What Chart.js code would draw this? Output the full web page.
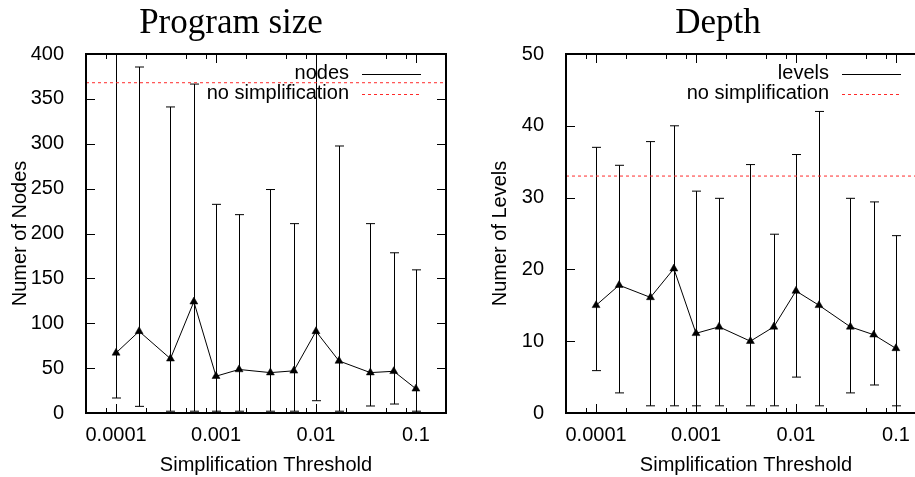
<!DOCTYPE html>
<html>
<head>
<meta charset="utf-8">
<title>Simplification threshold</title>
<script src="https://cdn.jsdelivr.net/npm/chart.js@4.4.1/dist/chart.umd.min.js"></script>
<style>
  html, body { margin: 0; padding: 0; background: #fff; }
  #wrap { position: relative; width: 915px; height: 477px; overflow: hidden; }
  #sizeChart { position: absolute; left: 0; top: 0; }
  #depthChart { position: absolute; left: 480px; top: 0; }
</style>
</head>
<body>
<div id="wrap">
  <canvas id="sizeChart" width="460" height="477" style="width:460px;height:477px"></canvas>
  <canvas id="depthChart" width="480" height="477" style="width:480px;height:477px"></canvas>
</div>
<script>
// thresholds on the x axis (log scale)
const thresholds = [0.0001, 0.00017, 0.00035, 0.0006, 0.001, 0.0017, 0.0035, 0.006, 0.01, 0.017, 0.035, 0.06, 0.1];
const majorTicks = [0.0001, 0.001, 0.01, 0.1];
const minorTicks = [0.00008, 0.0002, 0.0005, 0.0008, 0.002, 0.005, 0.008, 0.02, 0.05, 0.08];
const xMin = 0.00005, xMax = 0.2;

// program size (nodes)
const nodesMean = [67, 91, 60.5, 124, 41, 48.5, 45, 47, 91, 58, 45, 46.5, 27];
const nodesLow  = [16.7, 7.4, 2, 2, 2, 2, 2, 2, 13.7, 2, 7.8, 10, 2];
const nodesHigh = [430, 385.5, 341, 366.5, 232.5, 221, 249, 211, 420, 297.5, 211, 178.5, 159.5];
const nodesNoSimp = 368;
const nodesTicks = [0, 50, 100, 150, 200, 250, 300, 350, 400];

// depth (levels)
const levelsMean = [15, 17.8, 16.1, 20.1, 11.1, 12, 10, 12, 17, 15, 12, 10.9, 9];
const levelsLow  = [5.9, 2.8, 1, 1, 1, 1, 1, 1, 5, 1, 2.8, 3.9, 1];
const levelsHigh = [37, 34.5, 37.8, 40, 30.9, 29.9, 34.6, 24.9, 36, 42, 29.9, 29.4, 24.7];
const levelsNoSimp = 33;
const levelsTicks = [0, 10, 20, 30, 40, 50];

Chart.defaults.font.family = '"Liberation Sans", Arial, sans-serif';
Chart.defaults.color = '#000';

// gnuplot-like frame: inward ticks, error bars, legend in the corner, serif title
const gnuFrame = {
  id: 'gnuFrame',
  beforeDatasetsDraw(chart) {
    const o = chart.options.plugins.gnuFrame;
    const { ctx, chartArea: a, scales: { x, y } } = chart;
    ctx.save();
    ctx.beginPath();
    ctx.rect(a.left, a.top, a.right - a.left, a.bottom - a.top);
    ctx.clip();
    ctx.strokeStyle = '#000';
    ctx.lineWidth = 1;
    thresholds.forEach((t, i) => {
      const px = Math.round(x.getPixelForValue(t)) + 0.5;
      const yl = y.getPixelForValue(o.low[i]);
      const yh = y.getPixelForValue(o.high[i]);
      ctx.beginPath();
      ctx.moveTo(px, yl); ctx.lineTo(px, yh);
      ctx.moveTo(px - 4.5, yl); ctx.lineTo(px + 4.5, yl);
      ctx.moveTo(px - 4.5, yh); ctx.lineTo(px + 4.5, yh);
      ctx.stroke();
    });
    ctx.restore();
  },
  afterDraw(chart) {
    const o = chart.options.plugins.gnuFrame;
    const { ctx, chartArea: a, scales: { x, y } } = chart;
    ctx.save();
    ctx.strokeStyle = '#000';

    // ticks
    ctx.lineWidth = 1;
    ctx.beginPath();
    const xt = (v, len) => {
      const px = Math.round(x.getPixelForValue(v)) + 0.5;
      ctx.moveTo(px, a.bottom); ctx.lineTo(px, a.bottom - len);
      ctx.moveTo(px, a.top); ctx.lineTo(px, a.top + len);
    };
    majorTicks.forEach(v => xt(v, 9));
    minorTicks.forEach(v => xt(v, 5));
    o.yTicks.forEach(v => {
      const py = Math.round(y.getPixelForValue(v)) + 0.5;
      ctx.moveTo(a.left, py); ctx.lineTo(a.left + 9, py);
      ctx.moveTo(a.right, py); ctx.lineTo(a.right - 9, py);
    });
    ctx.stroke();

    // border
    ctx.lineWidth = 2;
    ctx.strokeRect(a.left, a.top, a.right - a.left, a.bottom - a.top);

    // legend
    ctx.font = '20px "Liberation Sans", Arial, sans-serif';
    ctx.fillStyle = '#000';
    ctx.textAlign = 'right';
    ctx.textBaseline = 'middle';
    chart.data.datasets.forEach((ds, i) => {
      const ly = a.top + 19.5 + i * 20.3;
      ctx.fillText(ds.label, a.right - 97, ly);
      ctx.beginPath();
      ctx.strokeStyle = ds.borderColor;
      ctx.lineWidth = 1;
      ctx.setLineDash(ds.borderDash || []);
      ctx.moveTo(a.right - 84, Math.round(ly) + 0.5);
      ctx.lineTo(a.right - 25, Math.round(ly) + 0.5);
      ctx.stroke();
      ctx.setLineDash([]);
    });

    // panel title
    ctx.font = '35px "Liberation Serif", "Times New Roman", serif';
    ctx.textAlign = 'center';
    ctx.textBaseline = 'alphabetic';
    ctx.fillText(o.title, o.titleX, 33);
    ctx.restore();
  }
};

function makePanel(canvasId, opts) {
  return new Chart(document.getElementById(canvasId), {
    type: 'line',
    data: {
      datasets: [
        {
          label: opts.label,
          data: thresholds.map((t, i) => ({ x: t, y: opts.mean[i] })),
          borderColor: '#000',
          borderWidth: 1,
          tension: 0,
          pointStyle: 'triangle',
          pointRadius: 4.6,
          pointBackgroundColor: '#000',
          pointBorderColor: '#000',
          pointBorderWidth: 0.5
        },
        {
          label: 'no simplification',
          data: [{ x: xMin, y: opts.noSimp }, { x: xMax, y: opts.noSimp }],
          borderColor: '#ff2a2a',
          borderWidth: 1,
          borderDash: [3, 3],
          pointRadius: 0
        }
      ]
    },
    options: {
      responsive: false,
      animation: false,
      layout: { padding: { top: 54, right: opts.padRight, left: 0, bottom: 0 } },
      plugins: {
        legend: { display: false },
        tooltip: { enabled: false },
        gnuFrame: {
          low: opts.low, high: opts.high, yTicks: opts.yTicks,
          title: opts.title, titleX: opts.titleX
        }
      },
      scales: {
        x: {
          type: 'logarithmic',
          min: xMin,
          max: xMax,
          grid: { display: false },
          border: { display: false },
          afterFit(s) { s.height = 64; },
          afterBuildTicks(s) { s.ticks = majorTicks.map(v => ({ value: v })); },
          ticks: {
            autoSkip: false,
            maxRotation: 0,
            padding: 2,
            font: { size: 20 },
            callback: v => String(v)
          },
          title: {
            display: true,
            text: 'Simplification Threshold',
            font: { size: 20 },
            padding: { top: 0, bottom: 0 }
          }
        },
        y: {
          min: 0,
          max: opts.yTicks[opts.yTicks.length - 1],
          grid: { display: false },
          border: { display: false },
          afterFit(s) { s.width = 86; },
          afterBuildTicks(s) { s.ticks = opts.yTicks.map(v => ({ value: v })); },
          ticks: { padding: 14, font: { size: 20 } },
          title: {
            display: true,
            text: opts.yTitle,
            font: { size: 20 },
            padding: { top: 8, bottom: 0 }
          }
        }
      }
    },
    plugins: [gnuFrame]
  });
}

makePanel('sizeChart', {
  label: 'nodes', mean: nodesMean, low: nodesLow, high: nodesHigh,
  noSimp: nodesNoSimp, yTicks: nodesTicks, yTitle: 'Numer of Nodes',
  title: 'Program size', titleX: 231, padRight: 14
});

makePanel('depthChart', {
  label: 'levels', mean: levelsMean, low: levelsLow, high: levelsHigh,
  noSimp: levelsNoSimp, yTicks: levelsTicks, yTitle: 'Numer of Levels',
  title: 'Depth', titleX: 238, padRight: 34
});
</script>
</body>
</html>
